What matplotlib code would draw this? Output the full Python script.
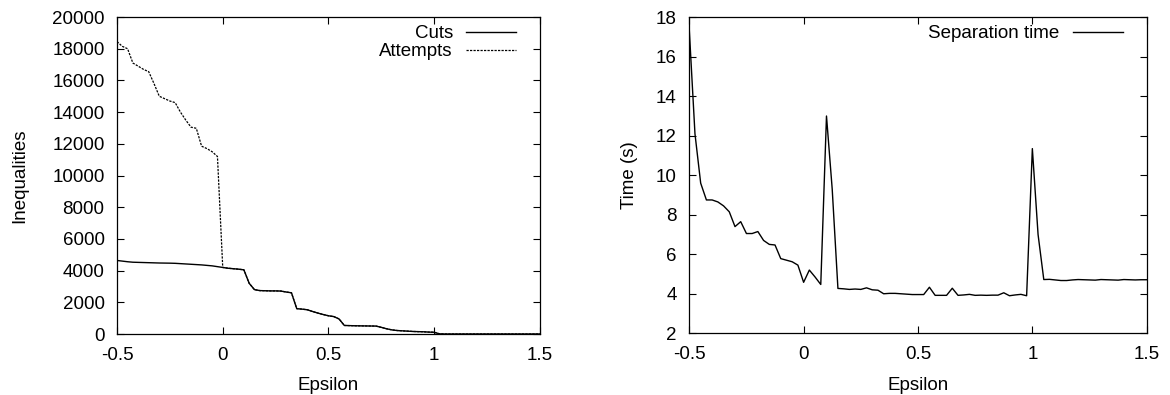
import numpy as np
import matplotlib
matplotlib.use("Agg")
import matplotlib.pyplot as plt

plt.rcParams["font.family"] = ["Liberation Sans", "DejaVu Sans"]
FS = 13.5
plt.rcParams["font.size"] = FS

# --- data (epsilon step 0.025) ---
epsilon = np.round(np.arange(-0.5, 1.5001, 0.025), 3)

cuts = [4640, 4600, 4560, 4530, 4520, 4510, 4500, 4490, 4480, 4475,
        4470, 4460, 4440, 4420, 4400, 4380, 4360, 4330, 4300, 4250,
        4200, 4150, 4120, 4090, 4050, 3200, 2800, 2740, 2730, 2720,
        2720, 2710, 2650, 2600, 1600, 1570, 1530, 1420, 1320, 1230,
        1150, 1100, 950, 540, 530, 520, 515, 510, 505, 500,
        420, 330, 260, 220, 200, 180, 160, 150, 140, 120,
        110, 10, 0, 0, 0, 0, 0, 0, 0, 0,
        0, 0, 0, 0, 0, 0, 0, 0, 0, 0, 0]

attempts_neg = [18450, 18150, 18000, 17100, 16900, 16700, 16550, 15800, 15000, 14850,
                14700, 14600, 14000, 13500, 13050, 12980, 11850, 11700, 11500, 11200]
attempts = attempts_neg + cuts[len(attempts_neg):]

sep_time = [17.4, 12.1, 9.6, 8.75, 8.75, 8.65, 8.45, 8.15, 7.4, 7.65,
            7.05, 7.05, 7.15, 6.7, 6.5, 6.47, 5.78, 5.7, 5.62, 5.45,
            4.58, 5.2, 4.85, 4.47, 13.0, 9.3, 4.27, 4.25, 4.22, 4.24,
            4.22, 4.3, 4.2, 4.18, 4.0, 4.02, 4.02, 4.0, 3.98, 3.96,
            3.96, 3.96, 4.33, 3.92, 3.92, 3.92, 4.28, 3.92, 3.94, 3.97,
            3.92, 3.93, 3.92, 3.93, 3.93, 4.05, 3.9, 3.94, 3.97, 3.9,
            11.35, 7.0, 4.72, 4.73, 4.7, 4.67, 4.67, 4.7, 4.72, 4.71,
            4.7, 4.69, 4.72, 4.71, 4.7, 4.69, 4.72, 4.71, 4.7, 4.71, 4.71]

x_ticks = [-0.5, 0, 0.5, 1, 1.5]
x_ticklabels = ["-0.5", "0", "0.5", "1", "1.5"]


def style_axes(ax):
    ax.tick_params(direction="in", top=True, right=True, length=5, width=0.8,
                   pad=9, labelsize=FS)
    for s in ax.spines.values():
        s.set_linewidth(0.9)
    ax.set_xlim(-0.5, 1.5)
    ax.set_xticks(x_ticks)
    ax.set_xticklabels(x_ticklabels)
    ax.set_xlabel("Epsilon", fontsize=FS, labelpad=10)


fig = plt.figure(figsize=(11.7, 3.95), dpi=100)
fig.patch.set_facecolor("white")

ax1 = fig.add_axes([0.1, 0.1544, 0.3615, 0.8025])
ax1.plot(epsilon, cuts, color="black", lw=1.0, label="Cuts")
ax1.plot(epsilon, attempts, color="black", lw=0.9, dashes=(1.8, 1.0), label="Attempts")
style_axes(ax1)
ax1.set_ylim(0, 20000)
ax1.set_yticks(np.arange(0, 20001, 2000))
ax1.set_ylabel("Inequalities", fontsize=FS, labelpad=17)
ax1.legend(loc="upper right", bbox_to_anchor=(0.97, 1.01), frameon=False,
           markerfirst=False, handlelength=2.67, handletextpad=0.7,
           labelspacing=0.05, borderaxespad=0.2, fontsize=FS)

ax2 = fig.add_axes([0.5891, 0.1563, 0.391, 0.8])
ax2.plot(epsilon, sep_time, color="black", lw=1.0, label="Separation time")
style_axes(ax2)
ax2.set_ylim(2, 18)
ax2.set_yticks(np.arange(2, 19, 2))
ax2.set_ylabel("Time (s)", fontsize=FS, labelpad=13)
ax2.legend(loc="upper right", bbox_to_anchor=(0.972, 1.01), frameon=False,
           markerfirst=False, handlelength=2.67, handletextpad=0.7,
           borderaxespad=0.2, fontsize=FS)

fig.savefig("out.png", dpi=100, facecolor="white")
plt.close(fig)
